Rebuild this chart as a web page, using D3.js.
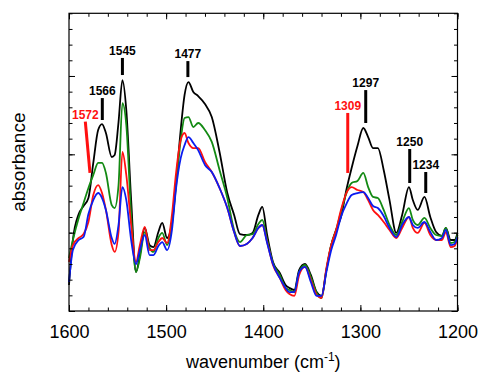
<!DOCTYPE html>
<html>
<head>
<meta charset="utf-8">
<script src="https://cdn.jsdelivr.net/npm/d3@7"></script>
<style>
  body { margin: 0; background: #fff; }
  svg { display: block; }
</style>
</head>
<body>
<div id="chart"></div>
<script>
const width = 479;
const height = 374;
const margin = { top: 13.3, right: 21.5, bottom: 63, left: 69 };

// spectra (absorbance, arbitrary units)
const wavenumbers = [
  1600, 1596, 1590, 1585, 1580, 1575, 1570, 1566,
  1562, 1556, 1553, 1549, 1545, 1541, 1536, 1531,
  1527, 1522, 1517, 1513, 1508, 1504, 1499, 1494,
  1490, 1485, 1481, 1477, 1472, 1467, 1460, 1453,
  1445, 1437, 1430, 1424, 1417, 1411, 1405, 1401,
  1396, 1390, 1383, 1377, 1373, 1368, 1363, 1357,
  1351, 1345, 1340, 1335, 1330, 1325, 1320, 1314,
  1309, 1303, 1297, 1292, 1287, 1282, 1276, 1270,
  1263, 1257, 1250, 1246, 1241, 1234, 1228, 1222,
  1216, 1212, 1207, 1203, 1200
];
const black = [
  0.166, 0.453, 0.619, 0.670, 0.721, 0.945, 1.155, 1.193,
  1.136, 0.983, 0.996, 1.206, 1.474, 1.283, 0.708, 0.249,
  0.357, 0.530, 0.421, 0.408, 0.504, 0.562, 0.466, 0.568,
  0.804, 1.155, 1.379, 1.461, 1.398, 1.372, 1.321, 1.238,
  1.015, 0.753, 0.613, 0.491, 0.485, 0.498, 0.613, 0.664,
  0.485, 0.313, 0.243, 0.166, 0.147, 0.134, 0.262, 0.300,
  0.230, 0.121, 0.096, 0.262, 0.421, 0.517, 0.600, 0.785,
  0.913, 1.053, 1.168, 1.110, 1.040, 1.040, 0.900, 0.708,
  0.498, 0.613, 0.791, 0.708, 0.645, 0.728, 0.600, 0.504,
  0.479, 0.530, 0.453, 0.453, 0.498
];
const green = [
  0.338, 0.453, 0.594, 0.689, 0.785, 0.868, 0.945, 0.945,
  0.881, 0.676, 0.657, 0.804, 1.327, 1.187, 0.613, 0.249,
  0.338, 0.504, 0.402, 0.377, 0.466, 0.498, 0.421, 0.549,
  0.785, 1.091, 1.232, 1.238, 1.174, 1.200, 1.155, 1.079,
  0.900, 0.721, 0.517, 0.440, 0.485, 0.491, 0.555, 0.581,
  0.453, 0.306, 0.230, 0.147, 0.134, 0.121, 0.249, 0.294,
  0.217, 0.115, 0.083, 0.262, 0.421, 0.517, 0.632, 0.759,
  0.817, 0.830, 0.881, 0.791, 0.728, 0.721, 0.645, 0.549,
  0.485, 0.568, 0.657, 0.581, 0.549, 0.594, 0.530, 0.485,
  0.479, 0.530, 0.434, 0.440, 0.485
];
const red = [
  0.313, 0.421, 0.466, 0.491, 0.568, 0.740, 0.804, 0.753,
  0.645, 0.421, 0.377, 0.504, 1.015, 0.868, 0.549, 0.313,
  0.421, 0.536, 0.389, 0.389, 0.440, 0.466, 0.434, 0.613,
  0.868, 1.091, 1.136, 1.072, 1.040, 1.040, 0.951, 0.887,
  0.785, 0.657, 0.504, 0.415, 0.428, 0.466, 0.530, 0.549,
  0.440, 0.294, 0.211, 0.134, 0.108, 0.096, 0.230, 0.281,
  0.198, 0.102, 0.083, 0.274, 0.421, 0.517, 0.645, 0.759,
  0.791, 0.772, 0.759, 0.708, 0.645, 0.613, 0.568, 0.517,
  0.466, 0.530, 0.600, 0.530, 0.498, 0.562, 0.485, 0.453,
  0.453, 0.504, 0.408, 0.415, 0.466
];
const blue = [
  0.185, 0.389, 0.453, 0.472, 0.619, 0.708, 0.753, 0.721,
  0.645, 0.466, 0.428, 0.549, 0.791, 0.708, 0.453, 0.300,
  0.389, 0.485, 0.357, 0.357, 0.415, 0.440, 0.389, 0.517,
  0.772, 0.976, 1.059, 1.110, 1.072, 1.027, 0.932, 0.887,
  0.785, 0.657, 0.504, 0.415, 0.428, 0.466, 0.530, 0.549,
  0.434, 0.300, 0.211, 0.147, 0.121, 0.121, 0.249, 0.281,
  0.185, 0.096, 0.096, 0.249, 0.389, 0.485, 0.600, 0.689,
  0.740, 0.753, 0.759, 0.721, 0.670, 0.657, 0.606, 0.530,
  0.472, 0.549, 0.600, 0.549, 0.530, 0.568, 0.504, 0.453,
  0.466, 0.517, 0.421, 0.428, 0.472
];

const seriesNames = ["black", "green", "red", "blue"];
const seriesValues = [black, green, red, blue];
const seriesColors = ["#000000", "#138a13", "#ff1010", "#0a1cf0"];

// peak markers: label, colour, bar ends (wavenumber, absorbance)
const peakLabels = ["1572", "1566", "1545", "1477", "1309", "1297", "1250", "1234"];
const peakColors = ["#ff1010", "#000", "#000", "#000", "#ff1010", "#000", "#000", "#000"];
const barTopW = [1583.2, 1565.7, 1545.0, 1477.6, 1313.0, 1294.5, 1249.2, 1232.7];
const barBottomW = [1578.4, 1565.7, 1545.0, 1477.6, 1313.0, 1294.5, 1249.2, 1232.7];
const barTopA = [1.208, 1.359, 1.615, 1.595, 1.264, 1.410, 1.034, 0.887];
const barBottomA = [0.881, 1.219, 1.506, 1.493, 0.881, 1.200, 0.817, 0.753];

const xMajor = [1600, 1500, 1400, 1300, 1200];
const xMinor = d3.range(1200, 1601, 20);
const yMajor = [0, 0.5, 1.0, 1.5];
const yMinor = d3.range(0, 1.91, 0.1);

const svg = d3.select("#chart").append("svg")
  .attr("width", width)
  .attr("height", height)
  .style("font-family", "Arial, 'Liberation Sans', sans-serif");

const x = d3.scaleLinear()
  .domain([1600, 1200])
  .range([margin.left, width - margin.right]);

const y = d3.scaleLinear()
  .domain([0, 1.9])
  .range([height - margin.bottom, margin.top]);

// lines
const line = d3.line()
  .x((d) => x(d[0]))
  .y((d) => y(d[1]))
  .curve(d3.curveMonotoneX);

seriesValues.forEach((vals, i) => {
  svg.append("path")
    .datum(wavenumbers.map((w, j) => [w, vals[j]]))
    .attr("class", "spectrum " + seriesNames[i])
    .attr("fill", "none")
    .attr("stroke", seriesColors[i])
    .attr("stroke-width", 1.8)
    .attr("stroke-linejoin", "round")
    .attr("d", line);
});

// axes, ticks pointing inward on all four sides
const plotB = height - margin.bottom;
const plotR = width - margin.right;

function tickAxis(axisFn, scale, values, size, pos, labels) {
  const a = axisFn(scale).tickValues(values).tickSizeInner(-size).tickSizeOuter(0);
  a.tickFormat(labels ? d3.format("d") : "");
  const g = svg.append("g").attr("transform", pos).call(a);
  g.select(".domain").remove();
  g.selectAll(".tick line").attr("stroke", "#000").attr("stroke-width", 1);
  return g;
}

tickAxis(d3.axisBottom, x, xMinor, 3.5, `translate(0,${plotB})`, false);
const xg = tickAxis(d3.axisBottom, x, xMajor, 6, `translate(0,${plotB})`, true);
xg.selectAll(".tick text")
  .attr("y", 14)
  .attr("dy", "0.71em")
  .style("font-size", "18px")
  .attr("fill", "#000");
tickAxis(d3.axisTop, x, xMinor, 3.5, `translate(0,${margin.top})`, false);
tickAxis(d3.axisTop, x, xMajor, 6, `translate(0,${margin.top})`, false);
tickAxis(d3.axisLeft, y, yMinor, 3.5, `translate(${margin.left},0)`, false);
tickAxis(d3.axisLeft, y, yMajor, 6, `translate(${margin.left},0)`, false);
tickAxis(d3.axisRight, y, yMinor, 3.5, `translate(${plotR},0)`, false);
tickAxis(d3.axisRight, y, yMajor, 6, `translate(${plotR},0)`, false);

svg.append("rect")
  .attr("x", margin.left)
  .attr("y", margin.top)
  .attr("width", plotR - margin.left)
  .attr("height", plotB - margin.top)
  .attr("fill", "none")
  .attr("stroke", "#000")
  .attr("stroke-width", 1.2);

// peak bars and labels
const peaks = svg.append("g").attr("class", "peaks");
peakLabels.forEach((lab, i) => {
  peaks.append("line")
    .attr("x1", x(barTopW[i]))
    .attr("y1", y(barTopA[i]))
    .attr("x2", x(barBottomW[i]))
    .attr("y2", y(barBottomA[i]))
    .attr("stroke", peakColors[i])
    .attr("stroke-width", 3);
  peaks.append("text")
    .attr("x", x(barTopW[i]))
    .attr("y", y(barTopA[i]) - 3)
    .attr("text-anchor", "middle")
    .style("font-size", "12px")
    .style("font-weight", "bold")
    .attr("fill", peakColors[i])
    .text(lab);
});

// axis titles
const xt = svg.append("text")
  .attr("x", (margin.left + plotR) / 2)
  .attr("y", 368)
  .attr("text-anchor", "middle")
  .style("font-size", "18px")
  .attr("fill", "#000");
xt.append("tspan").text("wavenumber (cm");
xt.append("tspan").attr("dy", -7).style("font-size", "12px").text("-1");
xt.append("tspan").attr("dy", 7).text(")");

svg.append("text")
  .attr("transform", `translate(25,${(margin.top + plotB) / 2}) rotate(-90)`)
  .attr("text-anchor", "middle")
  .style("font-size", "19px")
  .attr("fill", "#000")
  .text("absorbance");
</script>
</body>
</html>
